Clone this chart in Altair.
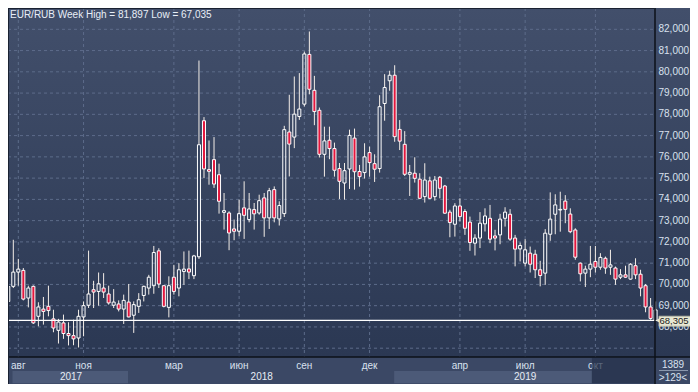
import altair as alt
import pandas as pd

# ---------------- data ----------------
opens = [69.2, 69.91, 70.58, 70.66, 69.36, 69.91, 68.50, 68.84, 68.97, 68.38,
         67.84, 68.19, 67.69, 67.59, 67.48, 68.47, 69.02, 69.75, 69.67, 69.83,
         69.55, 69.02, 69.08, 68.84, 69.17, 68.55, 68.97, 69.48, 69.83, 69.94,
         71.58, 69.94, 68.92, 70.34, 69.83, 70.61, 70.73, 70.41, 71.30, 77.70,
         75.40, 75.87, 75.16, 73.39, 73.36, 72.61, 72.50, 73.60, 73.05, 73.52,
         73.36, 74.07, 73.13, 74.46, 73.08, 73.33, 77.17, 76.93, 77.90, 78.48,
         80.82, 79.13, 78.19, 76.12, 76.78, 76.39, 75.45, 74.77, 75.43, 76.88,
         75.31, 75.26, 76.20, 75.68, 75.45, 78.51, 79.58, 79.84, 77.29, 76.59,
         75.18, 75.23, 74.95, 74.13, 74.87, 74.13, 75.04, 74.63, 73.40, 72.83,
         73.69, 73.43, 72.93, 71.94, 72.18, 72.85, 73.11, 72.28, 72.33, 73.11,
         73.30, 72.18, 71.67, 71.00, 71.47, 71.42, 70.69, 70.53, 72.36, 73.30,
         73.50, 73.92, 73.31, 72.56, 71.00, 70.53, 70.72, 71.08, 70.81, 71.23,
         70.81, 70.77, 70.34, 70.45, 70.25, 70.88, 70.48, 69.94, 68.94, 68.305]
highs = [70.2, 72.10, 71.20, 70.77, 69.94, 69.95, 69.16, 69.41, 69.94, 68.81,
         68.38, 68.58, 68.22, 68.34, 68.81, 69.20, 71.59, 70.17, 70.56, 70.53,
         69.94, 69.78, 69.25, 69.52, 70.02, 69.20, 69.59, 69.94, 70.45, 71.81,
         71.70, 69.96, 70.38, 70.92, 71.00, 71.55, 71.59, 71.39, 80.53, 77.87,
         76.77, 76.93, 75.68, 74.30, 73.44, 73.05, 73.99, 74.85, 74.30, 73.83,
         74.22, 74.30, 74.54, 74.61, 73.91, 77.46, 78.92, 79.78, 79.94, 80.95,
         81.897, 79.81, 78.32, 77.42, 77.42, 76.67, 75.71, 75.71, 77.28, 77.33,
         75.62, 76.64, 76.48, 76.12, 78.90, 79.89, 80.05, 80.31, 77.73, 77.21,
         75.62, 75.98, 75.23, 75.70, 75.07, 75.10, 75.10, 74.68, 73.51, 73.82,
         74.05, 73.54, 73.19, 72.36, 73.40, 73.58, 73.74, 72.57, 73.32, 73.63,
         73.54, 72.33, 71.97, 72.13, 71.78, 71.63, 71.11, 72.60, 74.33, 74.24,
         74.36, 74.20, 73.58, 72.64, 71.03, 70.88, 71.81, 71.81, 71.47, 71.31,
         71.63, 70.84, 70.72, 70.88, 71.00, 71.23, 70.69, 70.02, 69.36, 69.20]
lows = [69.0, 69.83, 69.94, 69.25, 68.92, 68.14, 68.03, 68.11, 68.50, 67.75,
        67.22, 67.44, 67.13, 67.14, 67.035, 67.56, 68.89, 68.89, 69.00, 69.36,
        69.05, 68.89, 68.73, 68.14, 68.45, 67.72, 68.66, 69.20, 69.52, 69.56,
        69.83, 68.92, 68.45, 69.52, 69.44, 69.98, 70.25, 70.25, 71.20, 75.00,
        74.69, 74.54, 73.33, 72.58, 71.61, 72.08, 72.27, 72.14, 72.92, 72.58,
        73.28, 72.24, 72.61, 72.92, 72.77, 73.17, 75.08, 76.41, 77.74, 78.37,
        78.94, 77.49, 75.97, 75.07, 75.89, 75.07, 74.02, 73.99, 74.49, 74.46,
        74.60, 74.98, 75.07, 74.82, 75.26, 77.70, 79.11, 76.71, 76.32, 75.10,
        74.16, 74.79, 74.01, 73.85, 74.01, 73.94, 74.05, 73.32, 72.22, 72.25,
        72.96, 72.33, 71.58, 71.36, 71.71, 72.49, 71.94, 71.60, 71.89, 72.72,
        72.05, 70.85, 71.08, 70.85, 70.56, 70.30, 69.91, 69.98, 72.05, 72.36,
        72.48, 72.88, 72.41, 71.16, 70.14, 69.88, 70.34, 70.56, 70.69, 70.50,
        70.45, 69.98, 70.25, 70.30, 70.22, 70.25, 69.44, 68.69, 68.34, 68.28]
closes = [69.9, 70.58, 70.72, 69.31, 69.83, 68.19, 68.94, 68.73, 68.77, 67.95,
          68.23, 67.69, 67.59, 67.44, 68.50, 69.00, 69.55, 69.64, 70.03, 69.64,
          69.13, 69.17, 68.84, 69.25, 68.47, 69.05, 69.28, 69.91, 70.34, 71.50,
          70.02, 68.97, 69.94, 69.67, 70.69, 70.72, 70.58, 71.34, 76.57, 75.43,
          75.32, 74.72, 73.91, 73.47, 72.42, 72.50, 73.33, 73.25, 73.55, 73.32,
          73.94, 73.13, 74.41, 73.13, 73.71, 77.28, 76.60, 78.01, 78.25, 80.84,
          79.18, 78.13, 76.12, 76.75, 76.39, 75.37, 74.85, 75.35, 77.01, 75.30,
          75.07, 76.00, 75.73, 75.42, 78.36, 79.26, 79.84, 76.95, 76.74, 75.18,
          75.27, 74.99, 74.05, 74.91, 74.05, 74.91, 74.52, 73.35, 72.91, 73.69,
          73.19, 72.64, 71.97, 72.18, 72.88, 73.22, 72.13, 72.18, 73.07, 73.40,
          72.13, 71.66, 71.83, 71.63, 70.95, 70.69, 70.42, 72.41, 73.07, 73.74,
          73.53, 73.53, 72.48, 71.28, 70.50, 70.72, 70.95, 70.81, 71.27, 70.77,
          70.92, 70.25, 70.45, 70.34, 70.95, 70.45, 69.83, 68.94, 68.40, 68.80]

month_pos = [2, 15, 33, 46, 59, 72, 90, 103, 117]
month_labels = ["авг", "ноя", "мар", "июн", "сен", "дек", "апр", "июл", "окт"]
year_pos = [12.5, 50.5, 103]
year_labels = ["2017", "2018", "2019"]
band_start = [0.84, 76.9]
band_end = [23.86, 116.3]
grid_values = list(range(67, 83))
axis_values = list(range(68, 83))
last_price = 68.305
last_price_label = "68,305"
title_text = "EUR/RUB Week High = 81,897 Low = 67,035"
counter_texts = ["1389", ">129<"]

# ---------------- layout ----------------
W, H = 647, 349
PAD_R, PAD_B = 35, 27
TW, TH = W + PAD_R, H + PAD_B
FONT = "Liberation Sans"

n = len(opens)
df = pd.DataFrame({"k": list(range(n)), "o": opens, "h": highs, "l": lows, "c": closes})
df["top"] = df[["o", "c"]].max(axis=1)
df["bot"] = df[["o", "c"]].min(axis=1)
df["xa"] = df["k"] - 0.3
df["xb"] = df["k"] + 0.3
df["dir"] = ["up" if c >= o else "down" for o, c in zip(opens, closes)]

xs = alt.Scale(domain=[-0.056, 128.878], nice=False, zero=False)
ys = alt.Scale(domain=[66.586, 83.002], nice=False, zero=False)

one = pd.DataFrame({"a": [0]})

bg = alt.Chart(one).mark_rect(
    fill=alt.Gradient(gradient="linear",
                      stops=[alt.GradientStop(color="#424f6b", offset=0),
                             alt.GradientStop(color="#2b3853", offset=1)],
                      x1=0, x2=0, y1=0, y2=1)
).encode(x=alt.value(0), x2=alt.value(TW), y=alt.value(0), y2=alt.value(H))

tbg = alt.Chart(one).mark_rect(color="#3b4865").encode(
    x=alt.value(0), x2=alt.value(TW), y=alt.value(H), y2=alt.value(TH))

bands = alt.Chart(pd.DataFrame({"s": band_start, "e": band_end})).mark_rect(
    color="#4c5a78").encode(
    x=alt.X("s:Q", scale=xs, axis=None), x2="e:Q",
    y=alt.value(H + 14), y2=alt.value(TH - 0.7))

hgrid = alt.Chart(pd.DataFrame({"v": grid_values})).mark_rule(
    color="#5d6c8a", strokeDash=[3, 3], strokeWidth=1).encode(
    y=alt.Y("v:Q", scale=ys, axis=None),
    x=alt.value(0), x2=alt.value(W))

ylabels = alt.Chart(pd.DataFrame({"v": axis_values})).transform_calculate(
    t="replace(format(datum.v, '.3f'), '.', ',')"
).mark_text(font=FONT, fontSize=10, color="#d9e1ee", align="left",
            baseline="middle").encode(
    y=alt.Y("v:Q", scale=ys, axis=None), x=alt.value(W + 3.5), text="t:N")

mdf = pd.DataFrame({"p": month_pos, "t": month_labels})
vgrid = alt.Chart(mdf).mark_rule(color="#5d6c8a", strokeDash=[3, 3], strokeWidth=1).encode(
    x=alt.X("p:Q", scale=xs, axis=None), y=alt.value(0), y2=alt.value(H))

upper = alt.Chart(df).mark_rule(color="#f4eee8", strokeWidth=1).encode(
    x=alt.X("k:Q", scale=xs, axis=None),
    y=alt.Y("h:Q", scale=ys, axis=None), y2="top:Q")
lower = alt.Chart(df).mark_rule(color="#f4eee8", strokeWidth=1).encode(
    x=alt.X("k:Q", scale=xs, axis=None),
    y=alt.Y("l:Q", scale=ys, axis=None), y2="bot:Q")

bodies_up = alt.Chart(df).transform_filter("datum.dir == 'up'").mark_rect(
    fill="#2f3c58", fillOpacity=0, stroke="#ffffff", strokeWidth=1).encode(
    x=alt.X("xa:Q", scale=xs, axis=None), x2="xb:Q",
    y=alt.Y("o:Q", scale=ys, axis=None), y2="c:Q")
bodies_dn = alt.Chart(df).transform_filter("datum.dir == 'down'").mark_rect(
    fill="#e3173e", stroke="#ffffff", strokeWidth=1).encode(
    x=alt.X("xa:Q", scale=xs, axis=None), x2="xb:Q",
    y=alt.Y("o:Q", scale=ys, axis=None), y2="c:Q")

lp = pd.DataFrame({"v": [last_price], "lo": [last_price - 0.27], "hi": [last_price + 0.20],
                   "t": [last_price_label]})
pline = alt.Chart(lp).mark_rule(color="#ffffff", strokeWidth=1.2).encode(
    y=alt.Y("v:Q", scale=ys, axis=None), x=alt.value(0), x2=alt.value(W))

frame_h = alt.Chart(one).mark_rule(color="#0c1018", strokeWidth=1.5).encode(
    x=alt.value(0), x2=alt.value(TW), y=alt.value(H))
frame_v = alt.Chart(one).mark_rule(color="#0c1018", strokeWidth=1.5).encode(
    x=alt.value(W), y=alt.value(0), y2=alt.value(TH))
frame_t = alt.Chart(one).mark_rule(color="#1a2232", strokeWidth=1).encode(
    x=alt.value(0), x2=alt.value(W), y=alt.value(0.5))
frame_l = alt.Chart(one).mark_rule(color="#1a2232", strokeWidth=1).encode(
    x=alt.value(0.5), y=alt.value(0), y2=alt.value(TH))

mtext = alt.Chart(mdf).mark_text(font=FONT, fontSize=10, color="#d9e1ee",
                                  baseline="middle", align="center").encode(
    x=alt.X("p:Q", scale=xs, axis=None), y=alt.value(H + 8.5), text="t:N")
ytext = alt.Chart(pd.DataFrame({"p": year_pos, "t": year_labels})).mark_text(
    font=FONT, fontSize=10, color="#e6ecf5", baseline="middle", align="center").encode(
    x=alt.X("p:Q", scale=xs, axis=None), y=alt.value(H + 19.5), text="t:N")

scrollbox = alt.Chart(pd.DataFrame({"s": [116.3]})).mark_rect(
    color="#25304a", opacity=0.7).encode(
    x=alt.X("s:Q", scale=xs, axis=None), x2=alt.value(W - 0.8),
    y=alt.value(H + 0.8), y2=alt.value(TH - 0.7))

header = alt.Chart(pd.DataFrame({"t": [title_text]})).mark_text(
    font=FONT, fontSize=10, color="#e8eef7", align="left", baseline="middle").encode(
    x=alt.value(2), y=alt.value(7), text="t:N")

tag_box = alt.Chart(lp).mark_rect(color="#e8e8d3", stroke="#b9b9a4", strokeWidth=0.8).encode(
    x=alt.value(W + 4), x2=alt.value(TW + 4),
    y=alt.Y("lo:Q", scale=ys, axis=None), y2="hi:Q")
tag_arrow = alt.Chart(lp).mark_point(shape="triangle-left", filled=True, size=28,
                                     color="#e8e8d3", opacity=1).encode(
    x=alt.value(W + 3), y=alt.Y("v:Q", scale=ys, axis=None))
tag_text = alt.Chart(lp).mark_text(font=FONT, fontSize=9.5, color="#1c1c1c",
                                   align="left", baseline="middle", dy=1).encode(
    x=alt.value(W + 4.5), y=alt.Y("v:Q", scale=ys, axis=None), text="t:N")

cdf = pd.DataFrame({"t": counter_texts, "yy": [H + 7.5, H + 21]})
ctext = alt.Chart(cdf).mark_text(font=FONT, fontSize=10, color="#d9e1ee",
                                 align="center", baseline="middle").encode(
    x=alt.value(W + 18), y=alt.Y("yy:Q", scale=None, axis=None), text="t:N")
csep = alt.Chart(one).mark_rule(color="#8a97ad", strokeWidth=1).encode(
    x=alt.value(W + 4), x2=alt.value(W + 33), y=alt.value(H + 13.5))

chart = alt.layer(
    bg, tbg, bands, hgrid, vgrid, ylabels, upper, lower, bodies_up, bodies_dn, pline,
    mtext, ytext, scrollbox, frame_h, frame_v, frame_t, frame_l, header,
    tag_box, tag_arrow, tag_text, ctext, csep
).properties(
    width=W, height=H,
    padding={"left": 0, "top": 0, "right": PAD_R, "bottom": PAD_B},
    autosize=alt.AutoSizeParams(type="none"),
    background="#2e3b57"
).configure_view(stroke=None)

chart.save("out.html", embed_options={"renderer": "svg", "actions": False})
